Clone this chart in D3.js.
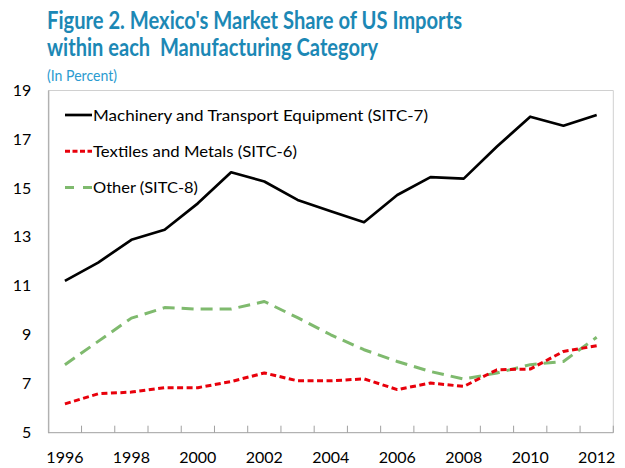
<!DOCTYPE html>
<html>
<head>
<meta charset="utf-8">
<script src="https://cdn.jsdelivr.net/npm/d3@7"></script>
<style>
  body { margin: 0; background: #fff; }
  svg { display: block; font-family: Lato, "Open Sans", sans-serif; }
</style>
</head>
<body>
<div id="line-chart"></div>
<script>
const years = [1996, 1997, 1998, 1999, 2000, 2001, 2002, 2003, 2004, 2005, 2006, 2007, 2008, 2009, 2010, 2011, 2012]
const machinery = [11.2, 11.95, 12.88, 13.29, 14.37, 15.64, 15.26, 14.51, 14.05, 13.6, 14.71, 15.44, 15.38, 16.69, 17.91, 17.54, 17.98]
const textiles = [6.18, 6.59, 6.66, 6.84, 6.84, 7.09, 7.44, 7.12, 7.12, 7.2, 6.76, 7.03, 6.89, 7.57, 7.6, 8.32, 8.55]
const other = [7.78, 8.73, 9.68, 10.11, 10.05, 10.05, 10.36, 9.7, 9.0, 8.39, 7.91, 7.5, 7.19, 7.44, 7.78, 7.91, 8.9]
const yTicks = [5, 7, 9, 11, 13, 15, 17, 19]
const xLabels = [1996, 1998, 2000, 2002, 2004, 2006, 2008, 2010, 2012]
const seriesNames = ["Machinery and Transport Equipment (SITC-7)", "Textiles and Metals (SITC-6)", "Other (SITC-8)"]

const width = 625
const height = 468
const margin = { top: 90, right: 11.7, bottom: 35.3, left: 48.3 }
const innerWidth = width - margin.left - margin.right
const innerHeight = height - margin.top - margin.bottom

const series = [
  { name: seriesNames[2], values: other, color: "#7fba6e", dash: "12,7", legendDash: "9,9", w: 3, textW: 105 },
  { name: seriesNames[1], values: textiles, color: "#e8000b", dash: "6,3.5", legendDash: "5,2.5", w: 3, textW: 204 },
  { name: seriesNames[0], values: machinery, color: "#000000", dash: null, legendDash: null, w: 2.7, textW: 335 }
]

const svg = d3.select("#line-chart")
  .append("svg")
    .attr("width", width)
    .attr("height", height)

// title
const addTitle = (txt, y, len) => {
  svg.append("text")
    .text(txt)
      .attr("x", 47)
      .attr("y", y)
      .attr("font-size", 24)
      .attr("font-weight", "bold")
      .attr("fill", "#1c88b5")
      .attr("xml:space", "preserve")
      .attr("textLength", len)
      .attr("lengthAdjust", "spacingAndGlyphs")
}
addTitle("Figure 2. Mexico's Market Share of US Imports", 29, 415)
addTitle("within each  Manufacturing Category", 56, 331)

svg.append("text")
  .text("(In Percent)")
    .attr("x", 47)
    .attr("y", 81)
    .attr("font-size", 15)
    .attr("fill", "#2b9bd0")
    .attr("textLength", 70)
    .attr("lengthAdjust", "spacingAndGlyphs")

const chart = svg.append("g")
  .attr("transform", `translate(${margin.left}, ${margin.top})`)

const xScale = d3.scaleBand()
  .domain(years)
  .range([0, innerWidth])
  .padding(0)

const yScale = d3.scaleLinear()
  .domain([5, 19])
  .range([innerHeight, 0])

const cx = d => xScale(d) + xScale.bandwidth() / 2

// plot border (top, right)
chart.append("path")
  .attr("d", `M0,${innerHeight}V0.5H${innerWidth}V${innerHeight}`)
  .attr("fill", "none")
  .attr("stroke", "#d0d0d0")
  .attr("stroke-width", 1)

// y axis
const yAxis = d3.axisLeft(yScale)
  .tickValues(yTicks)
  .tickSize(0)
  .tickPadding(17)
chart.append("g")
  .attr("class", "axis-y")
  .call(yAxis)
  .call(g => g.select(".domain").attr("stroke", "#a0a0a0"))
  .call(g => g.selectAll("text").attr("font-size", 16).attr("fill", "#000").attr("font-family", "Lato"))

// x axis: ticks between bands, pointing inward
const boundaries = years.map(d => xScale(d)).concat([innerWidth])
chart.append("g")
  .selectAll("line")
  .data(boundaries.slice(1))
  .join("line")
    .attr("x1", d => d)
    .attr("x2", d => d)
    .attr("y1", innerHeight - 7)
    .attr("y2", innerHeight)
    .attr("stroke", "#a0a0a0")

chart.append("line")
  .attr("x1", 0)
  .attr("x2", innerWidth)
  .attr("y1", innerHeight)
  .attr("y2", innerHeight)
  .attr("stroke", "#a0a0a0")

chart.append("g")
  .selectAll("text")
  .data(xLabels)
  .join("text")
    .text(d => d)
    .attr("x", d => cx(d))
    .attr("y", innerHeight + 30.5)
    .attr("text-anchor", "middle")
    .attr("font-size", 16)

// lines
const lineGenerator = d3.line()
  .x((d, i) => cx(years[i]))
  .y(d => yScale(d))

chart.selectAll(".series")
  .data(series)
  .join("path")
    .attr("class", "series")
    .attr("d", d => lineGenerator(d.values))
    .attr("fill", "none")
    .attr("stroke", d => d.color)
    .attr("stroke-width", d => d.w)
    .attr("stroke-dasharray", d => d.dash)
    .attr("stroke-linejoin", "round")

// legend
const legendItems = [series[2], series[1], series[0]]
const legend = svg.append("g")
  .selectAll("g")
  .data(legendItems)
  .join("g")
    .attr("transform", (d, i) => `translate(65, ${115 + i * 36.2})`)

legend.append("line")
  .attr("x1", 0)
  .attr("x2", 27)
  .attr("stroke", d => d.color)
  .attr("stroke-width", d => d.w)
  .attr("stroke-dasharray", d => d.legendDash)

legend.append("text")
  .text(d => d.name)
    .attr("x", 28)
    .attr("y", 6)
    .attr("font-size", 16)
    .attr("textLength", d => d.textW)
    .attr("lengthAdjust", "spacingAndGlyphs")
</script>
</body>
</html>
